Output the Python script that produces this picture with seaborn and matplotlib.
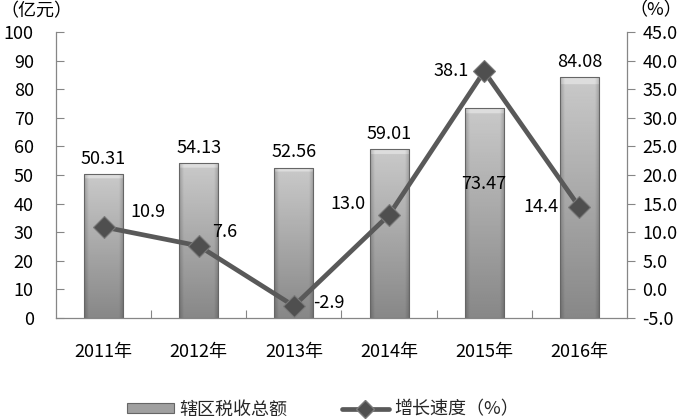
"""Tax revenue bars with growth-rate line (twin axis)."""
import matplotlib
matplotlib.use("Agg")
import matplotlib.pyplot as plt
from matplotlib.lines import Line2D
from matplotlib.patches import Patch
import numpy as np
import pandas as pd
import seaborn as sns

years = ["2011年", "2012年", "2013年", "2014年", "2015年", "2016年"]
tax_total = [50.31, 54.13, 52.56, 59.01, 73.47, 84.08]
growth = [10.9, 7.6, -2.9, 13.0, 38.1, 14.4]
bar_name = "辖区税收总额"
line_name = "增长速度（%）"

sns.set_theme(style="white")
plt.rcParams["font.family"] = ["Noto Sans CJK SC", "DejaVu Sans"]
plt.rcParams["axes.unicode_minus"] = False

df = pd.DataFrame({"year": years, "tax": tax_total, "growth": growth})
df["pos"] = np.arange(len(df))

fig = plt.figure(figsize=(6.87, 4.2), dpi=100)
ax = fig.add_axes([0.0815, 0.243, 0.831, 0.681])
ax2 = ax.twinx()

sns.barplot(data=df, x="year", y="tax", ax=ax, width=0.41, color="#a8a8a8",
            edgecolor="#666666", linewidth=0.8, saturation=1)

# fake the bevelled Excel bar look with a clipped gradient
rows = np.linspace(0.79, 0.53, 200)[:, None]
cols = np.linspace(0, 1, 60)[None, :]
edge = np.clip(np.minimum(cols, 1 - cols) / 0.12, 0, 1)
grad = rows * (0.80 + 0.20 * edge)
grad[:6, :] = np.minimum(grad[:6, :] + 0.08, 0.9)
for p in ax.patches:
    x0, y0 = p.get_x(), p.get_y()
    im = ax.imshow(grad, cmap="gray", vmin=0, vmax=1, aspect="auto", origin="upper",
                   extent=[x0, x0 + p.get_width(), y0, y0 + p.get_height()], zorder=p.get_zorder())
    im.set_clip_path(p)
    p.set_facecolor("none")
    p.set_zorder(p.get_zorder() + 0.1)

ax.set_xlim(-0.5, 5.5)
ax.set_ylim(0, 100)
ax.set_yticks(range(0, 101, 10))
ax.set_xlabel("")
ax.set_ylabel("")

sns.lineplot(data=df, x="pos", y="growth", ax=ax2, color="#595959", linewidth=3.4,
             marker="D", markersize=11, markerfacecolor="#4f4f4f", markeredgecolor="#7a7a7a",
             markeredgewidth=0.8)
ax2.set_ylim(-5, 45)
ax2.set_yticks(np.arange(-5, 46, 5))
ax2.set_yticklabels([f"{v:.1f}" for v in np.arange(-5, 46, 5)])
ax2.set_ylabel("")
ax2.set_xlim(-0.5, 5.5)

fs = 13
txt = "#000000"
# x axis: labels at centres, ticks at category boundaries
ax.set_xticks(range(len(years)))
ax.set_xticklabels(years)
ax.set_xticks(np.arange(0.5, 5, 1), minor=True)
ax.tick_params(axis="x", which="major", length=0, pad=18, labelsize=fs, labelcolor=txt)
ax.tick_params(axis="x", which="minor", direction="in", length=6, width=0.8, color="#868686", bottom=True)
ax.tick_params(axis="y", direction="in", length=6, width=0.8, color="#868686", pad=16,
               labelsize=fs, labelcolor=txt, left=True)
ax2.tick_params(axis="y", direction="out", length=6, width=0.8, color="#868686", pad=5,
                labelsize=fs, labelcolor=txt, right=True)

for a in (ax, ax2):
    a.spines["top"].set_visible(False)
    for s in ("left", "bottom", "right"):
        a.spines[s].set_color("#868686")
        a.spines[s].set_linewidth(0.9)
ax.spines["right"].set_visible(False)
ax2.spines["left"].set_visible(False)
ax2.spines["bottom"].set_visible(False)

# bar value labels (2015 sits inside the bar)
bar_offsets = [11, 11, 11, 11, -55, 11]
for i, (v, dy) in enumerate(zip(tax_total, bar_offsets)):
    ax.annotate(f"{v:.2f}", (i, v), xytext=(0, dy), textcoords="offset points",
                ha="center", va="center", fontsize=fs, color=txt)

# growth labels
line_offsets = [(19, 11, "left"), (10, 10, "left"), (14, 2, "left"),
                (-17, 8, "right"), (-11, 0, "right"), (-15, 0, "right")]
for i, (v, (dx, dy, ha)) in enumerate(zip(growth, line_offsets)):
    ax2.annotate(f"{v:.1f}", (i, v), xytext=(dx, dy), textcoords="offset points",
                 ha=ha, va="center", fontsize=fs, color=txt)

fig.text(0.0, 0.972, "（亿元）", fontsize=13, color=txt, va="center", ha="left")
fig.text(0.916, 0.976, "（%）", fontsize=13, color=txt, va="center", ha="left")

handles = [
    Patch(facecolor="#a0a0a0", edgecolor="#666666", linewidth=0.8),
    Line2D([0], [0], color="#595959", linewidth=3.4, marker="D", markersize=9,
           markerfacecolor="#4f4f4f", markeredgecolor="#7a7a7a"),
]
fig.legend(handles, [bar_name, line_name], loc="lower center", bbox_to_anchor=(0.47, -0.035),
           ncol=2, frameon=False, fontsize=13, handlelength=2.6, handleheight=0.5,
           columnspacing=3.0, handletextpad=0.3)

fig.savefig("out.png", dpi=100)
